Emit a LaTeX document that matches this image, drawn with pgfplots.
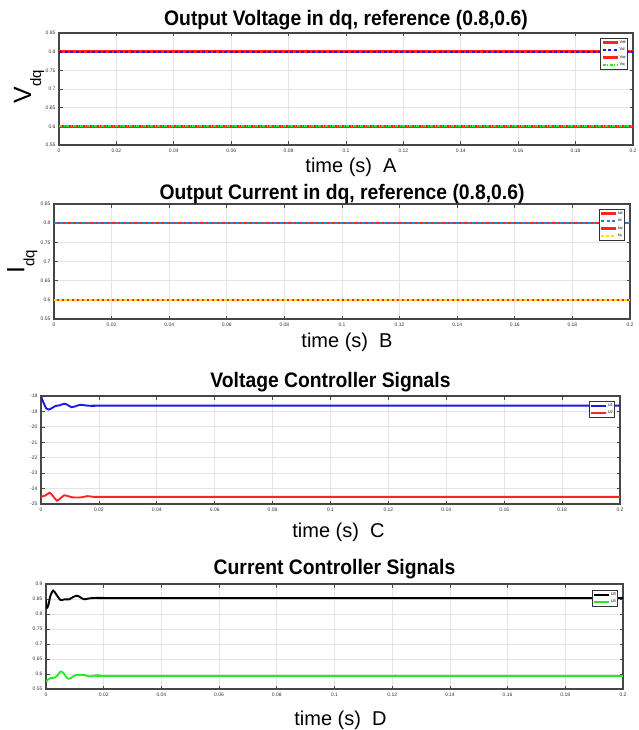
\documentclass[border=0pt]{standalone}
\usepackage{fontspec}
\setmainfont{Liberation Sans}
\newfontfamily\titlefont[FakeStretch=0.92]{Liberation Sans}
\usepackage{pgfplots}
\pgfplotsset{compat=1.18}
\definecolor{framegray}{RGB}{70,70,70}
\definecolor{gridgray}{RGB}{228,228,228}
\definecolor{mred}{RGB}{255,35,35}
\definecolor{mblue}{RGB}{25,25,235}
\definecolor{lblue}{RGB}{40,130,220}
\definecolor{mgreen}{RGB}{40,235,40}
\definecolor{myellow}{RGB}{255,225,0}
\pgfplotsset{
  myaxis/.style={
    scale only axis, anchor=north west,
    xmin=0, xmax=0.2,
    xtick={0,0.02,0.04,0.06,0.08,0.1,0.12,0.14,0.16,0.18,0.2},
    grid=major, major grid style={gridgray, line width=0.8pt},
    axis line style={framegray, line width=1.2pt},
    tick style={framegray, line width=0.7pt},
    tick align=inside, major tick length=3.5pt,
    ticklabel style={font=\fontsize{5}{6}\selectfont, text=black!80},
    /pgf/number format/assume math mode=true,
    scaled ticks=false,
    xticklabel style={/pgf/number format/fixed, /pgf/number format/precision=2},
    yticklabel style={/pgf/number format/fixed, /pgf/number format/precision=2},
    title style={font=\titlefont\bfseries\fontsize{21}{21}\selectfont, at={(axis description cs:0.5,1)}, anchor=base},
    xlabel style={font=\fontsize{20}{20}\selectfont, at={(axis description cs:0.5,0)}, anchor=base},
    legend style={font=\fontsize{4}{4.5}\selectfont, at={(axis description cs:0.991,0.955)}, anchor=north east,
      draw=black!80, line width=0.6pt, fill=white, inner xsep=1pt, inner ysep=1.2pt,
      row sep=2pt, nodes={inner sep=0.6pt}},
    legend cell align=left,
    legend image code/.code={\draw[#1] (0pt,0pt) -- (15pt,0pt);},
  }
}
\begin{document}
\begin{tikzpicture}
\useasboundingbox (0pt,0pt) rectangle (638pt,-730pt);
% ---------------- A ----------------
\begin{axis}[myaxis, at={(59pt,-33pt)}, width=574pt, height=112pt,
  ymin=0.55, ymax=0.85, ytick={0.55,0.6,0.65,0.7,0.75,0.8,0.85},
  title={Output Voltage in dq, reference (0.8,0.6)}, title style={yshift=1.5pt},
  xlabel={time (s)\ \ A}, xlabel style={yshift=-28pt, xshift=5pt},
  ylabel={{\fontsize{25}{25}\selectfont V}{\fontsize{15}{15}\selectfont\raisebox{-10pt}{dq}}},
  ylabel style={at={(axis description cs:-0.052,0.52)}, anchor=center}]
\addplot[mred, line width=2.4pt] coordinates {(0,0.8) (0.2,0.8)};
\addlegendentry{Vdr}
\addplot[mblue, line width=2.2pt, dash pattern=on 3pt off 2.5pt] coordinates {(0,0.8) (0.2,0.8)};
\addlegendentry{Vd}
\addplot[mred, line width=2.4pt] coordinates {(0,0.6) (0.2,0.6)};
\addlegendentry{Vqr}
\addplot[mgreen, line width=2.2pt, dash pattern=on 3pt off 1.5pt on 1pt off 1.5pt] coordinates {(0,0.6) (0.2,0.6)};
\addlegendentry{Vq}
\end{axis}
% ---------------- B ----------------
\begin{axis}[myaxis, at={(54pt,-204pt)}, width=576pt, height=115pt,
  ymin=0.55, ymax=0.85, ytick={0.55,0.6,0.65,0.7,0.75,0.8,0.85},
  title={Output Current in dq, reference (0.8,0.6)}, title style={yshift=-1pt},
  xlabel={time (s)\ \ B}, xlabel style={yshift=-28pt, xshift=5pt},
  ylabel={{\fontsize{25}{25}\selectfont I}{\fontsize{15}{15}\selectfont\raisebox{-10pt}{dq}}},
  ylabel style={at={(axis description cs:-0.055,0.5)}, anchor=center}]
\addplot[mred, line width=2.4pt] coordinates {(0,0.8) (0.2,0.8)};
\addlegendentry{Idr}
\addplot[lblue, line width=2.2pt, dash pattern=on 3pt off 2.5pt] coordinates {(0,0.8) (0.2,0.8)};
\addlegendentry{Id}
\addplot[mred, line width=2.4pt] coordinates {(0,0.6) (0.2,0.6)};
\addlegendentry{Iqr}
\addplot[myellow, line width=2.2pt, dash pattern=on 3pt off 2pt] coordinates {(0,0.6) (0.2,0.6)};
\addlegendentry{Iq}
\end{axis}
% ---------------- C ----------------
\begin{axis}[myaxis, at={(41pt,-396pt)}, width=579pt, height=108pt,
  ymin=-25, ymax=-18, ytick={-25,-24,-23,-22,-21,-20,-19,-18},
  title={Voltage Controller Signals}, title style={yshift=2.5pt},
  xlabel={time (s)\ \ C}, xlabel style={yshift=-33pt, xshift=8pt},
  legend style={at={(axis description cs:0.991,0.95)}}]
\addplot[mblue, line width=1.9pt, smooth, tension=0.45] coordinates {
(0,-18.02) (0.0008,-18.4) (0.0018,-18.8) (0.0027,-18.88) (0.0038,-18.78)
(0.005,-18.65) (0.0065,-18.6) (0.008,-18.5) (0.0092,-18.58) (0.0105,-18.72)
(0.012,-18.66) (0.0135,-18.57) (0.015,-18.6) (0.0165,-18.63) (0.018,-18.64)
(0.021,-18.62) (0.03,-18.62) (0.2,-18.62)};
\addlegendentry{U1}
\addplot[mred, line width=1.9pt, smooth, tension=0.45] coordinates {
(0,-24.52) (0.0015,-24.45) (0.003,-24.27) (0.0042,-24.5) (0.0055,-24.78)
(0.0068,-24.62) (0.008,-24.44) (0.0095,-24.5) (0.011,-24.57) (0.013,-24.58)
(0.0145,-24.55) (0.016,-24.49) (0.0175,-24.52) (0.019,-24.55) (0.022,-24.54)
(0.03,-24.54) (0.2,-24.54)};
\addlegendentry{U2}
\end{axis}
% ---------------- D ----------------
\begin{axis}[myaxis, at={(46pt,-584pt)}, width=577pt, height=105pt,
  ymin=0.55, ymax=0.9, ytick={0.55,0.6,0.65,0.7,0.75,0.8,0.85,0.9},
  title={Current Controller Signals}, title style={yshift=3.5pt},
  xlabel={time (s)\ \ D}, xlabel style={yshift=-36pt, xshift=6pt},
  legend style={at={(axis description cs:0.991,0.94)}}]
\addplot[black, line width=1.9pt, smooth, tension=0.45] coordinates {
(0,0.848) (0.0002,0.82) (0.0008,0.828) (0.0015,0.86) (0.0025,0.878)
(0.0035,0.866) (0.005,0.847) (0.0065,0.849) (0.008,0.849) (0.0095,0.857)
(0.0108,0.861) (0.012,0.855) (0.0132,0.849) (0.015,0.852) (0.018,0.854)
(0.022,0.853) (0.03,0.853) (0.2,0.853)};
\addlegendentry{U3}
\addplot[mgreen, line width=1.9pt, smooth, tension=0.45] coordinates {
(0,0.575) (0.0005,0.58) (0.0015,0.586) (0.003,0.588) (0.004,0.595)
(0.005,0.608) (0.006,0.604) (0.007,0.59) (0.0079,0.584) (0.009,0.589)
(0.0102,0.596) (0.012,0.597) (0.0135,0.596) (0.015,0.592) (0.0165,0.594)
(0.018,0.596) (0.02,0.5935) (0.03,0.5935) (0.2,0.5935)};
\addlegendentry{U4}
\end{axis}
\end{tikzpicture}
\end{document}
